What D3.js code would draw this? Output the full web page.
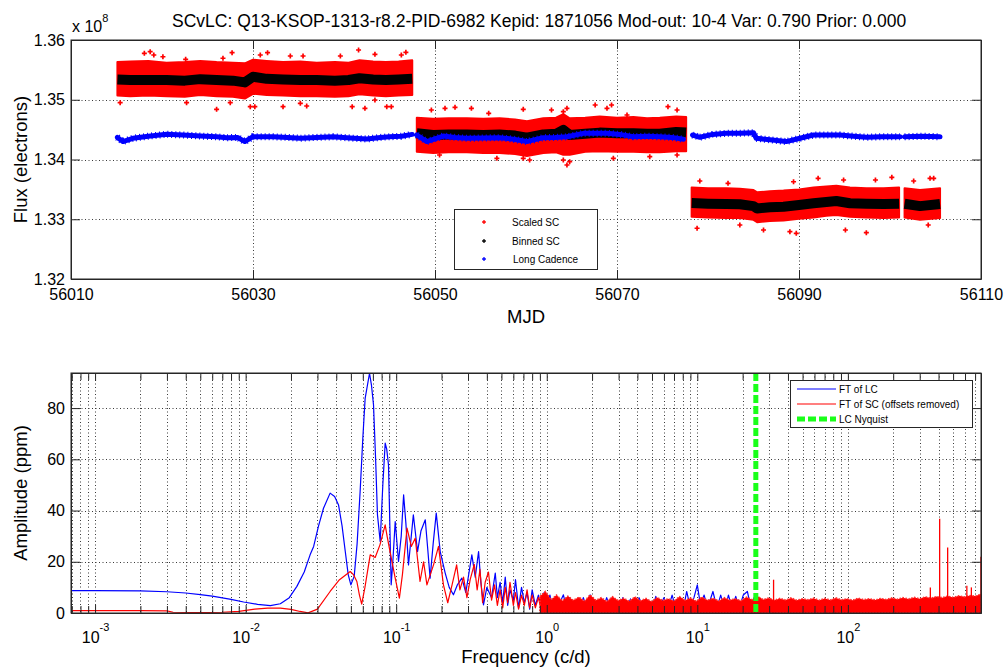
<!DOCTYPE html>
<html><head><meta charset="utf-8">
<script src="https://cdn.jsdelivr.net/npm/d3@7/dist/d3.min.js"></script>
<style>
body{margin:0;background:#fff;}
svg{display:block;font-family:"Liberation Sans",Arial,Helvetica,sans-serif;}
.grid{stroke:#3a3a3a;stroke-width:1;stroke-dasharray:1 2.5;fill:none;}
.axis .domain{stroke:#262626;}
.axis line{stroke:#262626;}
.axis text{fill:#000;}
</style></head>
<body><svg id="chart" width="1006" height="669"></svg>
<script>
// ---------- DATA ----------
const titleText = "SCvLC: Q13-KSOP-1313-r8.2-PID-6982 Kepid: 1871056 Mod-out: 10-4 Var: 0.790 Prior: 0.000";
const mjdTicks = [56010, 56030, 56050, 56070, 56090, 56110];
const fluxTicks = [1.32, 1.33, 1.34, 1.35, 1.36];
const ampTicks = [0, 20, 40, 60, 80];
const freqMajor = [1e-3, 1e-2, 1e-1, 1, 10, 100];

// Scaled SC (red) dense band envelope, flux in units of 1e8 electrons; null = gap
const scaledTime = [56015.1,56016.5,56018.5,56020.5,56022.5,56024.2,56026.0,56027.8,56029.1,56030.0,56031.5,56033.3,56035.2,56037.0,56039.0,56040.5,56041.7,56043.2,56044.6,56046.0,56047.5,
  56047.8,
  56048.0,56049.8,56051.5,56053.5,56055.3,56057.1,56058.8,56060.1,56061.9,56063.3,56064.1,56064.8,56066.5,56068.1,56070.0,56071.8,56073.3,56074.7,56076.5,56077.6,
  56077.9,
  56078.2,56080.0,56082.0,56083.5,56085.0,56085.4,56086.8,56088.3,56090.0,56091.6,56093.0,56094.1,56095.6,56097.4,56099.3,56101.0,
  56101.3,
  56101.6,56103.3,56105.5];
const scaledTop = [1.3563,1.3564,1.3565,1.3562,1.3563,1.3565,1.3563,1.3562,1.3561,1.3567,1.3565,1.3563,1.3564,1.3562,1.3563,1.3562,1.3566,1.3564,1.3563,1.3564,1.3566,
  null,
  1.3470,1.3468,1.3469,1.3469,1.3468,1.3469,1.3467,1.3464,1.3469,1.3470,1.3476,1.3469,1.3470,1.3472,1.3470,1.3471,1.3469,1.3470,1.3472,1.3471,
  null,
  1.3353,1.3352,1.3352,1.3351,1.3349,1.3345,1.3347,1.3348,1.3350,1.3353,1.3355,1.3356,1.3353,1.3352,1.3352,1.3353,
  null,
  1.3352,1.3349,1.3352];
const scaledBot = [1.3507,1.3506,1.3507,1.3506,1.3505,1.3508,1.3506,1.3505,1.3502,1.3510,1.3508,1.3507,1.3506,1.3506,1.3505,1.3506,1.3509,1.3507,1.3506,1.3507,1.3508,
  null,
  1.3413,1.3411,1.3412,1.3412,1.3411,1.3411,1.3409,1.3406,1.3411,1.3412,1.3408,1.3408,1.3413,1.3414,1.3413,1.3413,1.3412,1.3412,1.3414,1.3414,
  null,
  1.3304,1.3303,1.3302,1.3302,1.3299,1.3295,1.3297,1.3298,1.3301,1.3303,1.3306,1.3307,1.3304,1.3303,1.3302,1.3303,
  null,
  1.3303,1.3299,1.3302];
// Scaled SC outliers
const outlierTime = [56018.06,56018.7,56019.1,56020.1,56022.6,56026.7,56027.7,56030.8,56031.6,56034.1,56035.5,56039.6,56041.6,56043.4,56046.3,56046.8,
  56015.4,56022.7,56026.0,56027.5,56029.7,56030.2,56033.3,56035.2,56035.9,56040.9,56042.3,56043.4,56044.7,56045.2,
  56049.6,56051.1,56052.2,56054.0,56055.9,56059.7,56062.8,56064.1,56064.5,56067.6,56068.9,56069.4,56071.1,56075.6,56076.6,
  56050.5,56056.8,56059.7,56060.4,56064.1,56064.5,56064.8,56069.6,56073.6,56076.6,
  56079.1,56082.2,56089.4,56092.1,56094.9,56098.4,56100.2,56102.6,56104.4,56104.8,
  56078.8,56083.5,56086.1,56089.0,56089.7,56095.1,56097.4,56104.2];
const outlierFlux = [1.35777,1.35804,1.35749,1.3572,1.35677,1.35694,1.35788,1.35749,1.35788,1.35732,1.35732,1.35732,1.35833,1.3576,1.35749,1.35794,
  1.34951,1.34951,1.3484,1.34951,1.34884,1.34884,1.34884,1.3494,1.34895,1.34884,1.34857,1.34996,1.34884,1.34884,
  1.34828,1.34857,1.34873,1.34857,1.34773,1.3484,1.34828,1.348,1.34857,1.34912,1.34857,1.34912,1.34745,1.34884,1.34828,
  1.34075,1.3402,1.3402,1.33992,1.33992,1.33908,1.33963,1.3402,1.34047,1.34075,
  1.3364,1.33601,1.33628,1.33685,1.33657,1.33657,1.33702,1.3364,1.33685,1.33685,
  1.32849,1.32904,1.3282,1.32792,1.32765,1.3282,1.32775,1.32904];

// Binned SC (black)
const binnedTime = [56015.1,56016.5,56018.5,56020.5,56022.5,56024.2,56026.0,56027.8,56029.1,56030.0,56031.5,56033.3,56035.2,56037.0,56039.0,56040.5,56041.7,56043.2,56044.6,56046.0,56047.5,
  56047.8,
  56048.0,56049.8,56051.5,56053.5,56055.3,56057.1,56058.8,56060.1,56061.9,56063.3,56064.1,56064.8,56066.5,56068.1,56070.0,56071.8,56073.3,56074.7,56076.5,56077.6,
  56077.9,
  56078.2,56080.0,56082.0,56083.5,56085.0,56085.4,56086.8,56088.3,56090.0,56091.6,56093.0,56094.1,56095.6,56097.4,56099.3,56101.0,
  56101.3,
  56101.6,56103.3,56105.5];
const binnedFlux = [1.3534,1.3533,1.3533,1.3533,1.3532,1.35345,1.3533,1.3532,1.3529,1.35385,1.3535,1.3534,1.3533,1.3533,1.3532,1.3533,1.3536,1.3534,1.3533,1.3534,1.3535,
  null,
  1.3444,1.3441,1.3442,1.3442,1.3441,1.3442,1.3440,1.34365,1.3442,1.3443,1.34495,1.3441,1.3443,1.3445,1.3444,1.3444,1.3443,1.3443,1.3446,1.3445,
  null,
  1.3327,1.3326,1.33255,1.3325,1.3322,1.3318,1.3320,1.3321,1.3324,1.33267,1.3329,1.33305,1.33267,1.3326,1.33255,1.3326,
  null,
  1.3326,1.3322,1.33255];

// Long Cadence (blue)
const lcTime = [56015.1,56015.7,56016.8,56018.5,56020.5,56022.3,56024.2,56026.0,56027.1,56028.3,56029.1,56030.0,56032.2,56033.8,56035.2,56037.0,56038.8,56040.7,56042.5,56044.0,56045.0,56046.3,56047.5,
  56047.8,
  56048.0,56049.1,56050.9,56052.2,56053.5,56055.3,56057.1,56058.6,56060.1,56061.9,56063.2,56064.5,56066.3,56068.9,56070.3,56071.8,56073.3,56074.7,56076.0,56077.3,
  56077.9,
  56078.3,56079.1,56080.5,56082.0,56083.5,56085.0,56085.3,56086.8,56088.6,56090.1,56091.6,56093.0,56094.5,56096.0,56097.4,56099.0,56100.4,56101.1,
  56101.35,
  56101.6,56103.5,56105.5];
const lcFlux = [1.3437,1.3430,1.34355,1.3439,1.34422,1.3441,1.34393,1.3438,1.34365,1.3437,1.3430,1.34382,1.3438,1.3437,1.34355,1.3437,1.3438,1.3436,1.34343,1.3437,1.3438,1.3439,1.3442,
  null,
  1.3441,1.3430,1.34393,1.3437,1.34355,1.3436,1.34365,1.3434,1.3430,1.34365,1.3437,1.3438,1.34438,1.34438,1.3442,1.3438,1.3439,1.3438,1.3437,1.34338,
  null,
  1.3441,1.34372,1.3442,1.34438,1.3444,1.34449,1.34355,1.3433,1.3430,1.34355,1.3441,1.3441,1.3441,1.3439,1.34372,1.3438,1.3438,1.3438,
  null,
  1.3438,1.3439,1.3438];

// Spectrum: FT of LC (blue), frequency in c/d, amplitude in ppm
const lcFreq = [0.0007,0.001,0.002,0.003,0.004,0.005,0.006,0.008,0.0097,0.012,
  0.0146,0.017,0.0195,0.0219,0.0245,0.0268,0.0283,0.0305,0.0329,0.0364,
  0.039,0.0414,0.0437,0.0459,0.048,0.050,0.0526,0.055,0.0576,0.060,
  0.0622,0.0665,0.0685,0.0707,0.073,0.0751,0.0783,0.0815,0.0845,0.0865,
  0.0889,0.0926,0.095,0.0985,0.1036,0.108,0.112,0.116,0.1207,0.125,
  0.130,0.1386,0.146,0.156,0.162,0.168,0.176,0.1845,0.196,0.2116,
  0.225,0.24,0.255,0.273,0.29,0.305,0.318,0.335,0.3525,0.365,
  0.38,0.40,0.43,0.455,0.47,0.49,0.51,0.53,0.55,0.57,
  0.60,0.62,0.65,0.68,0.71,0.74,0.77,0.80,0.84,0.88,
  0.92,0.96,1.0,1.05,1.1,1.15,1.2,1.29,1.35,1.42,
  1.5,1.58,1.66,1.75,1.85,1.94,2.05,2.2,2.35,2.5,
  2.65,2.8,3.0,3.2,3.4,3.6,3.85,4.1,4.4,4.7,
  5.0,5.3,5.6,6.0,6.4,6.8,7.2,7.7,8.1,8.5,
  9.0,9.5,10.0,10.5,11.1,11.7,12.7,13.5,14.3,15.2,
  16.1,17,18,19,20.2,21.5,22.7,23.8,24.5];
const lcAmp = [8.7,8.7,8.6,8.3,7.8,7.2,6.6,5.3,4.3,3.4,
  2.9,3.6,6,10.4,16,22.7,26,34,40.9,46.8,
  45.5,42.2,34,24,15,11,14.3,27,47.4,68,
  83.8,93.6,89,81.2,60,38.3,27.9,50,66.3,64,
  57.8,11,20,35.7,20.1,30,46.1,35,18.8,28,
  38.3,24,32,36.4,25,13.6,27,39,24,15.6,
  10,7.1,11,13.6,8,16,22.7,14,24,12,
  3.2,10,6,15.6,6,12,4,14,3,9,
  5,13,2,10,4,8,1.5,9,3,7,
  2,8,4,7,1,6,3,7.1,2,6,
  1,5,2,6,1.5,7.1,2,5,1,6,
  2,5,1,6,2,5.5,1,6,2,5,
  1,6.5,2,6,1.5,7,2,6,2,8.4,
  2,6,11,3,7,2,8.4,2,7,1.5,
  7,2,6.5,2,7,8.4,2,6,3];

// FT of SC (red), low-frequency line
const scFreq = [0.0007,0.001,0.002,0.003,0.0033,0.005,0.007,0.009,0.0115,0.014,
  0.017,0.02,0.023,0.026,0.03,0.0364,0.042,0.0495,0.052,0.0548,
  0.057,0.059,0.062,0.0672,0.0725,0.078,0.0845,0.087,0.091,0.0985,
  0.105,0.11,0.118,0.126,0.1338,0.144,0.152,0.16,0.177,0.191,
  0.206,0.22,0.235,0.252,0.265,0.28,0.295,0.31,0.33,0.345,
  0.36,0.375,0.39,0.41,0.43,0.45,0.47,0.49,0.51,0.53,
  0.55,0.57,0.60,0.62,0.65,0.68,0.71,0.74,0.77,0.80,
  0.84,0.88,0.92,0.96,1.0];
const scAmp = [0.9,0.9,0.9,0.85,0.3,0.2,0.3,0.6,1.5,1.9,
  1.9,1.4,0.6,0.05,1.5,8.4,13,16.2,15,12.3,
  7,3.5,10,22.7,21.7,26.6,34.4,30,24,13.6,
  5.8,15,33.1,26,29.2,12.3,20,11,18.8,26,
  11,4,11,18.8,9,14,6,13,19,9,
  17,4,12,16,5,11,3,9,2,10,
  4,12,3,8,1.5,7,3,9,2,7,
  2,6,1,7,3];
// FT of SC (red), dense high-frequency noise: top of the filled band
const scBandFreq = [0.9,0.98,1.07,1.16,1.27,1.38,1.5,1.64,1.78,1.94,
  2.12,2.3,2.51,2.73,2.98,3.24,3.53,3.85,4.19,4.56,
  4.97,5.41,5.9,6.42,7.0,7.62,8.3,9.04,9.85,10.7,
  11.7,12.7,13.9,15.1,16.4,17.9,19.5,21.2,23.1,25.2,
  27.4,29.9,32.5,35.4,38.6,42.0,45.8,49.9,54.3,59.2,
  64.4,70.2,76.4,83.2,90.7,98.8,107.6,117,128,139,
  152,165,180,196,213,232,253,276,300,327,
  356,388,423,460,501,546,595,648,705,766];
const scBandAmp = [6.5,8.4,5.2,7.0,4.8,6.6,5.0,6.2,4.6,7.1,
  5.0,6.0,4.5,6.4,4.9,5.8,4.6,6.3,4.8,5.7,
  4.5,6.1,4.9,5.6,4.7,6.4,5.0,5.9,4.6,6.2,
  5.0,5.8,4.7,6.0,5.1,5.6,4.8,6.2,5.2,6.5,
  5.3,5.9,5.0,5.7,5.1,5.9,5.0,5.6,5.2,5.8,
  5.0,5.7,5.1,5.9,5.2,5.6,5.0,5.8,5.2,5.6,
  5.1,5.7,5.3,5.9,5.4,6.0,5.5,6.1,5.6,6.3,
  5.8,6.4,6.0,6.6,6.1,6.7,6.3,6.8,6.6,7.4];
// FT of SC (red), isolated spikes
const scSpikeFreq = [32.1, 353, 407, 460, 617, 661, 765];
const scSpikeAmp = [13, 10, 36.8, 25.6, 10.6, 10, 22];
const lcNyquist = 24.47;

// ---------- LAYOUT ----------
const FONT = '"Liberation Sans",Arial,Helvetica,sans-serif';
const svg = d3.select('#chart');
svg.append('rect').attr('width',1006).attr('height',669).attr('fill','#fff');
const P1 = {l:71, r:981, t:40, b:279};
const P2 = {l:71, r:981, t:373, b:613};
const xT = d3.scaleLinear().domain([56010,56110]).range([P1.l,P1.r]);
const yT = d3.scaleLinear().domain([1.32,1.36]).range([P1.b,P1.t]);
const xB = d3.scaleLog().domain([6.92e-4,766]).range([P2.l,P2.r]);
const yB = d3.scaleLinear().domain([0,93.7]).range([P2.b,P2.t]);

const defs = svg.append('defs');
defs.append('clipPath').attr('id','clip1').append('rect')
  .attr('x',P1.l).attr('y',P1.t).attr('width',P1.r-P1.l).attr('height',P1.b-P1.t);
defs.append('clipPath').attr('id','clip2').append('rect')
  .attr('x',P2.l).attr('y',P2.t).attr('width',P2.r-P2.l).attr('height',P2.b-P2.t);

// ---------- TOP PANEL ----------
const g1 = svg.append('g');
g1.selectAll('line.gx').data(mjdTicks).join('line').attr('class','grid gx')
  .attr('x1',d=>Math.round(xT(d))+0.5).attr('x2',d=>Math.round(xT(d))+0.5).attr('y1',P1.t).attr('y2',P1.b);
g1.selectAll('line.gy').data(fluxTicks).join('line').attr('class','grid gy')
  .attr('y1',d=>Math.round(yT(d))+0.5).attr('y2',d=>Math.round(yT(d))+0.5).attr('x1',P1.l).attr('x2',P1.r);

const d1 = svg.append('g').attr('clip-path','url(#clip1)');
const scaledRows = scaledTime.map((t,i)=>({t, top:scaledTop[i], bot:scaledBot[i]}));
const redArea = d3.area().defined(d=>d.top!=null).x(d=>xT(d.t)).y0(d=>yT(d.bot)).y1(d=>yT(d.top));
d1.append('path').datum(scaledRows).attr('d',redArea).attr('fill','#ff0000')
  .attr('stroke','#ff0000').attr('stroke-width',2).attr('stroke-linejoin','round');
const cross = d3.symbol().type(d3.symbolCross).size(14);
d1.selectAll('path.out').data(outlierTime.map((t,i)=>({t, v:outlierFlux[i]}))).join('path').attr('class','out')
  .attr('transform',d=>`translate(${xT(d.t)},${yT(d.v)})`).attr('d',cross).attr('fill','#ff0000');

const binRows = binnedTime.map((t,i)=>({t, v:binnedFlux[i]}));
const lineT = d3.line().defined(d=>d.v!=null).x(d=>xT(d.t)).y(d=>yT(d.v));
d1.append('path').datum(binRows).attr('d',lineT).attr('fill','none').attr('stroke','#000')
  .attr('stroke-width',10).attr('stroke-linejoin','round');

const lcRows = lcTime.map((t,i)=>({t, v:lcFlux[i]}));
d1.append('path').datum(lcRows).attr('d',lineT).attr('fill','none').attr('stroke','#0000ff')
  .attr('stroke-width',5).attr('stroke-linejoin','round').attr('stroke-linecap','round');
d1.append('path').datum(lcRows).attr('d',lineT).attr('fill','none').attr('stroke','#0000ff')
  .attr('stroke-width',7).attr('stroke-dasharray','1 3');

// axes top
function fontify(g, size){ g.attr('font-size',size).attr('font-family',FONT); g.selectAll('text').attr('fill','#000'); }
svg.append('g').attr('class','axis').attr('transform',`translate(0,${P1.b})`)
  .call(d3.axisBottom(xT).tickValues(mjdTicks).tickFormat(d3.format('d')).tickSizeInner(-9).tickSizeOuter(0).tickPadding(10))
  .call(g=>fontify(g,16));
svg.append('g').attr('class','axis').attr('transform',`translate(0,${P1.t})`)
  .call(d3.axisTop(xT).tickValues(mjdTicks).tickFormat('').tickSizeInner(-9).tickSizeOuter(0));
svg.append('g').attr('class','axis').attr('transform',`translate(${P1.l},0)`)
  .call(d3.axisLeft(yT).tickValues(fluxTicks).tickFormat(d3.format('.2f')).tickSizeInner(-9).tickSizeOuter(0).tickPadding(6))
  .call(g=>fontify(g,16));
svg.append('g').attr('class','axis').attr('transform',`translate(${P1.r},0)`)
  .call(d3.axisRight(yT).tickValues(fluxTicks).tickFormat('').tickSizeInner(-9).tickSizeOuter(0));

// exponent
const ex = svg.append('text').attr('x',72).attr('y',32).attr('font-size',16).attr('font-family',FONT);
ex.append('tspan').text('x 10');
ex.append('tspan').attr('dy',-10).attr('font-size',11).text('8');

// title + labels
svg.append('text').attr('x',172).attr('y',27).attr('font-size',17.5).attr('font-family',FONT).text(titleText);
svg.append('text').attr('x',(P1.l+P1.r)/2).attr('y',323).attr('text-anchor','middle').attr('font-size',18.5).attr('font-family',FONT).text('MJD');
svg.append('text').attr('transform',`translate(27,${(P1.t+P1.b)/2}) rotate(-90)`).attr('text-anchor','middle').attr('font-size',18.5).attr('font-family',FONT).text('Flux (electrons)');

// legend top
const L1 = svg.append('g');
L1.append('rect').attr('x',454.5).attr('y',209.5).attr('width',143).attr('height',60).attr('fill','#fff').attr('stroke','#262626');
const leg1 = [{name:'Scaled SC', c:'#ff0000', y:222},{name:'Binned SC', c:'#000', y:241},{name:'Long Cadence', c:'#0000ff', y:259}];
L1.selectAll('path.lm').data(leg1).join('path').attr('class','lm')
  .attr('transform',d=>`translate(484,${d.y})`).attr('d',d3.symbol().type(d3.symbolCross).size(8)).attr('fill',d=>d.c);
L1.selectAll('text').data(leg1).join('text').attr('x',d=>d.name==='Long Cadence'?513:512).attr('y',d=>d.y+4)
  .attr('font-size',10).attr('font-family',FONT).text(d=>d.name);

// ---------- BOTTOM PANEL ----------
const allLog = xB.ticks();
const g2 = svg.append('g');
g2.selectAll('line.gx').data(allLog).join('line').attr('class','grid gx')
  .attr('x1',d=>Math.round(xB(d))+0.5).attr('x2',d=>Math.round(xB(d))+0.5).attr('y1',P2.t).attr('y2',P2.b)
  .attr('stroke',d=>freqMajor.includes(d)?'#3a3a3a':'#6a6a6a');
g2.selectAll('line.gy').data(ampTicks).join('line').attr('class','grid gy')
  .attr('y1',d=>Math.round(yB(d))+0.5).attr('y2',d=>Math.round(yB(d))+0.5).attr('x1',P2.l).attr('x2',P2.r);

const d2 = svg.append('g').attr('clip-path','url(#clip2)');
const lineB = d3.line().x(d=>xB(d.f)).y(d=>yB(d.a));
d2.append('path').datum(lcFreq.map((f,i)=>({f, a:lcAmp[i]}))).attr('d',lineB)
  .attr('fill','none').attr('stroke','#0000ff').attr('stroke-width',1.2).attr('stroke-linejoin','round');
d2.append('path').datum(scFreq.map((f,i)=>({f, a:scAmp[i]}))).attr('d',lineB)
  .attr('fill','none').attr('stroke','#ff0000').attr('stroke-width',1.2).attr('stroke-linejoin','round');
const bandArea = d3.area().x(d=>xB(d.f)).y0(yB(0)).y1(d=>yB(d.a));
d2.append('path').datum(scBandFreq.map((f,i)=>({f, a:scBandAmp[i]}))).attr('d',bandArea)
  .attr('fill','#ff0000').attr('stroke','#ff3030').attr('stroke-width',1.5).attr('stroke-dasharray','1.5 1.5');
d2.selectAll('line.spk').data(scSpikeFreq.map((f,i)=>({f, a:scSpikeAmp[i]}))).join('line').attr('class','spk')
  .attr('x1',d=>xB(d.f)).attr('x2',d=>xB(d.f)).attr('y1',yB(0)).attr('y2',d=>yB(d.a))
  .attr('stroke','#ff0000').attr('stroke-width',1.3);
d2.append('line').attr('x1',xB(lcNyquist)).attr('x2',xB(lcNyquist)).attr('y1',P2.t).attr('y2',P2.b)
  .attr('stroke','#1aff1a').attr('stroke-width',5).attr('stroke-dasharray','8 3');

// axes bottom
const minorTicks = allLog.filter(d=>!freqMajor.includes(d));
svg.append('g').attr('class','axis').attr('transform',`translate(0,${P2.b})`)
  .call(d3.axisBottom(xB).tickValues(minorTicks).tickFormat('').tickSizeInner(-7).tickSizeOuter(0));
svg.append('g').attr('class','axis').attr('transform',`translate(0,${P2.t})`)
  .call(d3.axisTop(xB).tickValues(minorTicks).tickFormat('').tickSizeInner(-7).tickSizeOuter(0));
const xMaj = svg.append('g').attr('class','axis').attr('transform',`translate(0,${P2.b})`)
  .call(d3.axisBottom(xB).tickValues(freqMajor).tickFormat('').tickSizeInner(-8).tickSizeOuter(0));
svg.append('g').attr('class','axis').attr('transform',`translate(0,${P2.t})`)
  .call(d3.axisTop(xB).tickValues(freqMajor).tickFormat('').tickSizeInner(-8).tickSizeOuter(0));
xMaj.selectAll('.tick text').each(function(d){
  const t = d3.select(this).attr('y',30).attr('dy',null).attr('font-size',16).attr('font-family',FONT).attr('fill','#000');
  t.text(null);
  t.append('tspan').text('10');
  t.append('tspan').attr('dy',-12).attr('font-size',11).text(String(Math.round(Math.log10(d))));
});
svg.append('g').attr('class','axis').attr('transform',`translate(${P2.l},0)`)
  .call(d3.axisLeft(yB).tickValues(ampTicks).tickFormat(d3.format('d')).tickSizeInner(-9).tickSizeOuter(0).tickPadding(6))
  .call(g=>fontify(g,16));
svg.append('g').attr('class','axis').attr('transform',`translate(${P2.r},0)`)
  .call(d3.axisRight(yB).tickValues(ampTicks).tickFormat('').tickSizeInner(-9).tickSizeOuter(0));
svg.append('rect').attr('x',P2.l).attr('y',P2.t).attr('width',P2.r-P2.l).attr('height',P2.b-P2.t)
  .attr('fill','none').attr('stroke','#262626');
svg.append('rect').attr('x',P1.l).attr('y',P1.t).attr('width',P1.r-P1.l).attr('height',P1.b-P1.t)
  .attr('fill','none').attr('stroke','#262626');

svg.append('text').attr('x',(P2.l+P2.r)/2).attr('y',663).attr('text-anchor','middle').attr('font-size',18.5).attr('font-family',FONT).text('Frequency (c/d)');
svg.append('text').attr('transform',`translate(27,${(P2.t+P2.b)/2}) rotate(-90)`).attr('text-anchor','middle').attr('font-size',18.5).attr('font-family',FONT).text('Amplitude (ppm)');

// legend bottom
const L2 = svg.append('g');
L2.append('rect').attr('x',790.5).attr('y',380.5).attr('width',182).attr('height',47).attr('fill','#fff').attr('stroke','#262626');
const leg2 = [{name:'FT of LC', c:'#0000ff', y:389, w:1.2, dash:null},
              {name:'FT of SC (offsets removed)', c:'#ff0000', y:404, w:1.2, dash:null},
              {name:'LC Nyquist', c:'#1aff1a', y:419, w:5, dash:'8 3'}];
L2.selectAll('line').data(leg2).join('line').attr('x1',797).attr('x2',836).attr('y1',d=>d.y).attr('y2',d=>d.y)
  .attr('stroke',d=>d.c).attr('stroke-width',d=>d.w).attr('stroke-dasharray',d=>d.dash);
L2.selectAll('text').data(leg2).join('text').attr('x',839).attr('y',d=>d.y+4)
  .attr('font-size',10).attr('font-family',FONT).text(d=>d.name);
</script></body></html>
